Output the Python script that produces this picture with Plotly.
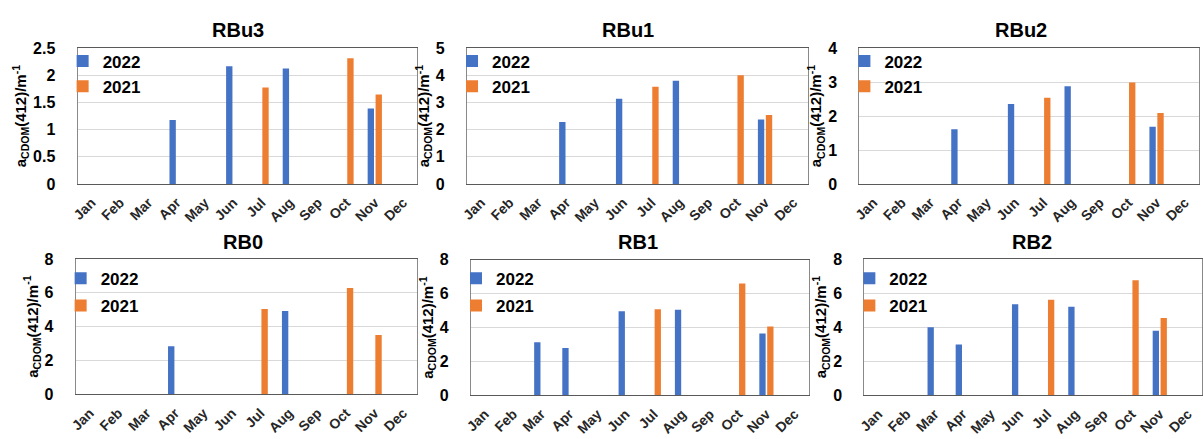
import plotly.graph_objects as go
from plotly.subplots import make_subplots

months = ["Jan", "Feb", "Mar", "Apr", "May", "Jun", "Jul", "Aug", "Sep", "Oct", "Nov", "Dec"]
titles = ["RBu3", "RBu1", "RBu2", "RB0", "RB1", "RB2"]
series_names = ["2022", "2021"]

rbu3_2022 = [None, None, None, 1.18, None, 2.17, None, 2.13, None, None, 1.39, None]
rbu3_2021 = [None, None, None, None, None, None, 1.78, None, None, 2.32, 1.65, None]
rbu1_2022 = [None, None, None, 2.28, None, 3.14, None, 3.81, None, None, 2.38, None]
rbu1_2021 = [None, None, None, None, None, None, 3.58, None, None, 4.01, 2.54, None]
rbu2_2022 = [None, None, None, 1.61, None, 2.36, None, 2.88, None, None, 1.69, None]
rbu2_2021 = [None, None, None, None, None, None, 2.54, None, None, 2.99, 2.09, None]
rb0_2022 = [None, None, None, 2.85, None, None, None, 4.92, None, None, None, None]
rb0_2021 = [None, None, None, None, None, None, 5.04, None, None, 6.28, 3.51, None]
rb1_2022 = [None, None, 3.13, 2.79, None, 4.97, None, 5.05, None, None, 3.65, None]
rb1_2021 = [None, None, None, None, None, None, 5.08, None, None, 6.61, 4.07, None]
rb2_2022 = [None, None, 4.00, 2.98, None, 5.34, None, 5.19, None, None, 3.79, None]
rb2_2021 = [None, None, None, None, None, None, 5.60, None, None, 6.75, 4.53, None]

data_2022 = [rbu3_2022, rbu1_2022, rbu2_2022, rb0_2022, rb1_2022, rb2_2022]
data_2021 = [rbu3_2021, rbu1_2021, rbu2_2021, rb0_2021, rb1_2021, rb2_2021]
y_max = [2.5, 5, 4, 8, 8, 8]
y_dtick = [0.5, 1, 1, 2, 2, 2]

W, H = 1203, 439
FONT = "Liberation Sans, Arial, sans-serif"
C2022 = "#4472C4"
C2021 = "#ED7D31"

# panel pixel boxes: (left, right, top, bottom)
boxes = [
    (71, 413, 42, 183),
    (463, 806, 42, 183),
    (858, 1200, 42, 183),
    (69, 413, 261, 402),
    (467, 807, 262, 403),
    (863, 1203, 261, 403),
]
title_pos = [(233, 23), (625, 23), (1021, 23), (238, 243), (635, 243), (1032, 243)]
legend_pos = [(98, 37), (490, 37), (885, 37), (96, 263), (494, 263), (890, 263)]
legend_gap = [0, 0, 0, 2, 2, 2]

fig = make_subplots(rows=2, cols=3)

for i in range(6):
    r, c = i // 3 + 1, i % 3 + 1
    lg = "legend" if i == 0 else f"legend{i + 1}"
    fig.add_trace(go.Bar(x=months, y=data_2022[i], name=series_names[0], marker_color=C2022,
                         marker_line_width=0, legend=lg, legendgroup=f"a{i}"), row=r, col=c)
    fig.add_trace(go.Bar(x=months, y=data_2021[i], name=series_names[1], marker_color=C2021,
                         marker_line_width=0, legend=lg, legendgroup=f"b{i}"), row=r, col=c)

annotations = []
legends = {}
for i in range(6):
    L, R, T, B = boxes[i]
    sx = "" if i == 0 else str(i + 1)
    fig.layout["xaxis" + sx].update(
        domain=[L / W, min(R / W, 1.0)],
        type="category", tickangle=-45,
        tickfont=dict(family=FONT, size=14, color="#262626", weight="bold"),
        showline=True, linecolor="#595959", linewidth=1, mirror=True,
        showgrid=False, ticks="", ticklabelstandoff=4,
    )
    fig.layout["yaxis" + sx].update(
        domain=[1 - B / H, 1 - T / H],
        range=[0, y_max[i]], dtick=y_dtick[i],
        tickfont=dict(family=FONT, size=16, color="#000000", weight="bold"),
        showline=True, linecolor="#898989", linewidth=1, mirror=True,
        showgrid=True, gridcolor="#D9D9D9", gridwidth=1, zeroline=False,
        ticks="", ticklabelstandoff=18,
        title=dict(text="a<sub>CDOM</sub>(412)/m<sup>-1</sup>", standoff=2,
                   font=dict(family=FONT, size=15, color="#000000", weight="bold")),
    )
    tx, ty = title_pos[i]
    annotations.append(dict(text=titles[i], x=tx / W, y=1 - ty / H, xref="paper", yref="paper",
                            xanchor="center", yanchor="middle", showarrow=False,
                            font=dict(family=FONT, size=20, color="#000000", weight="bold")))
    lx, ly = legend_pos[i]
    legends["legend" if i == 0 else f"legend{i + 1}"] = dict(
        x=(lx - 42) / W, y=1 - ly / H, xanchor="left", yanchor="top",
        bgcolor="rgba(0,0,0,0)", borderwidth=0, tracegroupgap=legend_gap[i],
        traceorder="grouped",
        font=dict(family=FONT, size=17, color="#000000", weight="bold"),
    )

fig.update_layout(
    width=W, height=H, margin=dict(l=0, r=0, t=0, b=0),
    paper_bgcolor="white", plot_bgcolor="white",
    barmode="group", bargap=0.44, bargroupgap=0.2,
    annotations=annotations, showlegend=True,
    **legends,
)

fig.write_html("out.html")
